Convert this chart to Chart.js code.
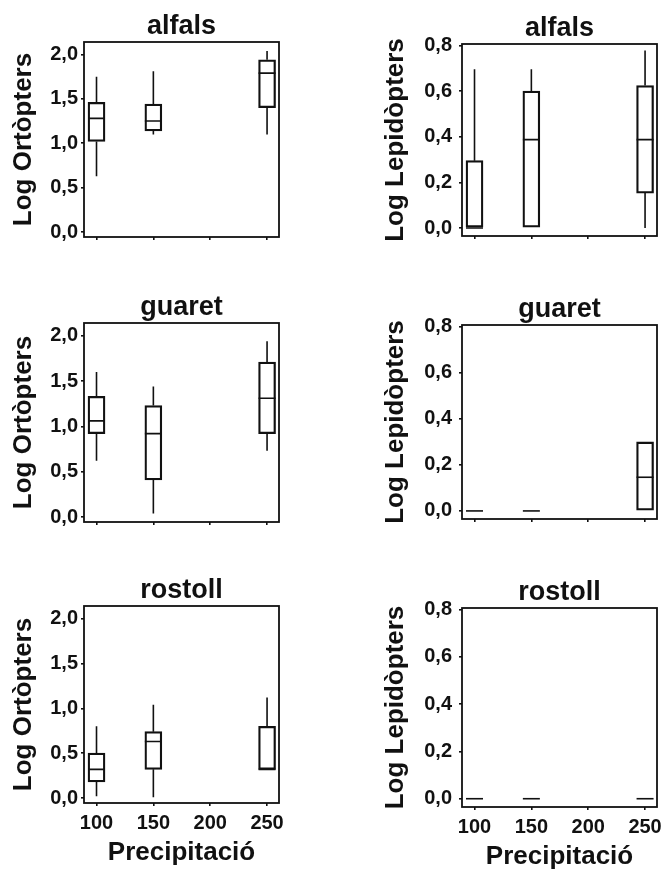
<!DOCTYPE html>
<html>
<head>
<meta charset="utf-8">
<script src="https://cdn.jsdelivr.net/npm/chart.js@4"></script>
<style>
    html, body { margin: 0; padding: 0; background: #fff; width: 664px; height: 870px; overflow: hidden; }
    canvas { position: absolute; }
</style>
</head>
<body>
<canvas id="c1"></canvas>
<canvas id="c2"></canvas>
<canvas id="c3"></canvas>
<canvas id="c4"></canvas>
<canvas id="c5"></canvas>
<canvas id="c6"></canvas>
<script>
const precip = [100, 150, 200, 250];
const xTicks = [100, 150, 200, 250];
const ortTicks = [0, 0.5, 1, 1.5, 2];
const lepTicks = [0, 0.2, 0.4, 0.6, 0.8];

// [min, q1, median, q3, max] for each precipitation level, null = no data
const alfalsOrt = [[0.63, 1.02, 1.28, 1.46, 1.75], [1.10, 1.14, 1.25, 1.44, 1.81], null, [1.10, 1.40, 1.79, 1.94, 2.04]];
const guaretOrt = [[0.62, 0.92, 1.06, 1.33, 1.60], [0.04, 0.41, 0.92, 1.23, 1.44], null, [0.73, 0.92, 1.31, 1.71, 1.94]];
const rostollOrt = [[0.02, 0.18, 0.32, 0.50, 0.80], [0.01, 0.32, 0.63, 0.74, 1.04], null, [0.32, 0.32, 0.32, 0.80, 1.12]];
const alfalsLep = [[0, 0, 0, 0.295, 0.695], [0, 0, 0.387, 0.60, 0.695], null, [0, 0.153, 0.387, 0.624, 0.777]];
const guaretLep = [[0, 0, 0, 0, 0], [0, 0, 0, 0, 0], null, [0, 0, 0.146, 0.299, 0.299]];
const rostollLep = [[0, 0, 0, 0, 0], [0, 0, 0, 0, 0], null, [0, 0, 0, 0, 0]];

const ink = '#111';
const family = "'Liberation Sans', Arial, sans-serif";
Chart.defaults.font.family = family;
Chart.defaults.color = ink;

// whiskers + median drawn on top of the floating bars
const boxPlot = {
    id: 'boxPlot',
    afterDatasetsDraw(chart) {
        const ctx = chart.ctx;
        const y = chart.scales.y;
        const ds = chart.data.datasets[0];
        const meta = chart.getDatasetMeta(0);
        ctx.save();
        ctx.strokeStyle = ink;
        ctx.lineWidth = 1.6;
        meta.data.forEach(function(bar, i) {
            const s = ds.stats[i];
            const half = bar.width / 2;
            ctx.beginPath();
            ctx.moveTo(bar.x, y.getPixelForValue(s[0]));
            ctx.lineTo(bar.x, y.getPixelForValue(s[1]));
            ctx.moveTo(bar.x, y.getPixelForValue(s[3]));
            ctx.lineTo(bar.x, y.getPixelForValue(s[4]));
            ctx.moveTo(bar.x - half, y.getPixelForValue(s[2]));
            ctx.lineTo(bar.x + half, y.getPixelForValue(s[2]));
            ctx.stroke();
        });
        ctx.restore();
    }
};

const frame = {
    id: 'frame',
    afterDraw(chart) {
        const a = chart.chartArea;
        const ctx = chart.ctx;
        ctx.save();
        ctx.strokeStyle = ink;
        ctx.lineWidth = 1.8;
        ctx.strokeRect(a.left, a.top, a.right - a.left, a.bottom - a.top);
        ctx.restore();
    }
};

function fmt(v) {
    return v.toFixed(1).replace('.', ',');
}

function makePanel(id, pos, title, stats, kind, bottomRow) {
    const el = document.getElementById(id);
    el.width = pos.w;
    el.height = pos.h;
    el.style.left = pos.left + 'px';
    el.style.top = pos.top + 'px';

    const rows = precip.map((p, i) => ({ x: p, s: stats[i] })).filter(r => r.s);
    const isOrt = kind === 'ort';

    new Chart(el, {
        type: 'bar',
        data: {
            datasets: [{
                data: rows.map(r => ({ x: r.x, y: [r.s[1], r.s[3]] })),
                stats: rows.map(r => r.s),
                backgroundColor: 'rgba(255,255,255,0)',
                borderColor: ink,
                borderWidth: 1.6,
                borderSkipped: false,
                barThickness: 17
            }]
        },
        options: {
            responsive: false,
            animation: false,
            layout: {
                padding: { top: 0, left: 0, right: pos.padRight, bottom: bottomRow ? 0 : 8 }
            },
            plugins: {
                legend: { display: false },
                tooltip: { enabled: false },
                title: {
                    display: true,
                    text: title,
                    fullSize: false,
                    color: ink,
                    padding: { top: 0, bottom: 0 },
                    font: { size: 27, weight: 'bold', lineHeight: '30px' }
                }
            },
            scales: {
                x: {
                    type: 'linear',
                    min: 89,
                    max: 260.5,
                    offset: false,
                    border: { display: false },
                    grid: { offset: false, drawOnChartArea: false, drawTicks: true, tickLength: 3, color: ink, lineWidth: 1.6 },
                    afterBuildTicks: s => { s.ticks = xTicks.map(v => ({ value: v })); },
                    afterFit: s => { s.height = bottomRow ? 64 : 6; },
                    ticks: {
                        display: bottomRow,
                        padding: 5,
                        color: ink,
                        font: { size: 20, weight: 'bold' },
                        callback: v => String(v)
                    },
                    title: {
                        display: bottomRow,
                        text: 'Precipitació',
                        color: ink,
                        padding: { top: 0, bottom: 0 },
                        font: { size: 26, weight: 'bold', lineHeight: '28px' }
                    }
                },
                y: {
                    min: isOrt ? -0.055 : -0.035,
                    max: isOrt ? 2.14 : 0.806,
                    border: { display: false },
                    grid: { drawOnChartArea: false, drawTicks: true, tickLength: 3, color: ink, lineWidth: 1.6 },
                    afterBuildTicks: s => { s.ticks = (isOrt ? ortTicks : lepTicks).map(v => ({ value: v })); },
                    afterFit: s => { s.width = pos.axisW; },
                    ticks: {
                        padding: pos.tickPad,
                        color: ink,
                        font: { size: 20, weight: 'bold' },
                        callback: v => fmt(v)
                    },
                    title: {
                        display: true,
                        text: isOrt ? 'Log Ortòpters' : 'Log Lepidòpters',
                        color: ink,
                        padding: { top: 11, bottom: 0 },
                        font: { size: 26, weight: 'bold', lineHeight: '26px' }
                    }
                }
            }
        },
        plugins: [boxPlot, frame]
    });
}

const leftCol = { left: 0, w: 332, padRight: 53, axisW: 84, tickPad: 3 };
const rightCol = { left: 372, w: 300, padRight: 15, axisW: 90, tickPad: 7 };

makePanel('c1', Object.assign({}, leftCol, { top: 12, h: 240 }), 'alfals', alfalsOrt, 'ort', false);
makePanel('c2', Object.assign({}, rightCol, { top: 14, h: 241 }), 'alfals', alfalsLep, 'lep', false);
makePanel('c3', Object.assign({}, leftCol, { top: 293, h: 244 }), 'guaret', guaretOrt, 'ort', false);
makePanel('c4', Object.assign({}, rightCol, { top: 295, h: 243 }), 'guaret', guaretLep, 'lep', false);
makePanel('c5', Object.assign({}, leftCol, { top: 576, h: 291 }), 'rostoll', rostollOrt, 'ort', true);
makePanel('c6', Object.assign({}, rightCol, { top: 578, h: 293 }), 'rostoll', rostollLep, 'lep', true);
</script>
</body>
</html>
